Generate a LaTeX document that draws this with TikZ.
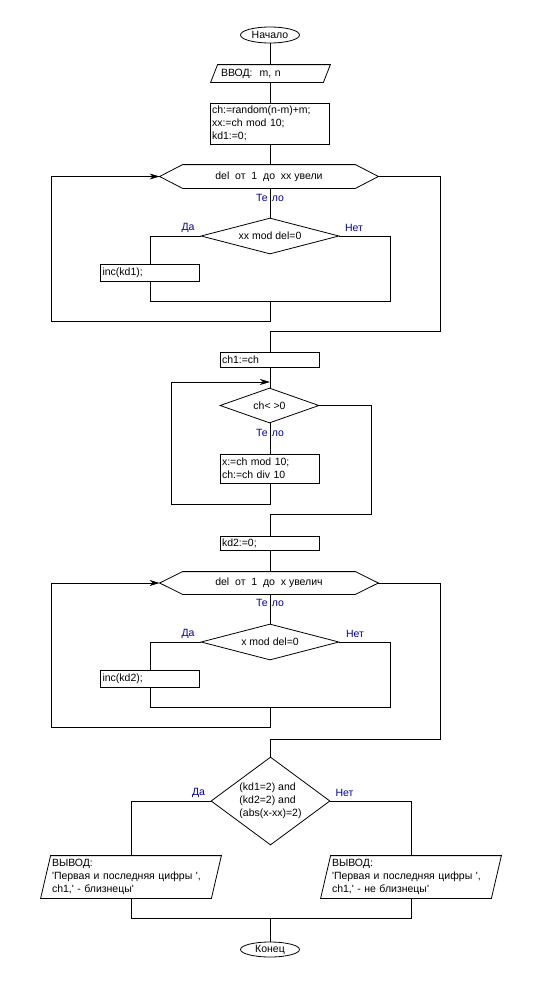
\documentclass[tikz,border=0pt]{standalone}
\usepackage{fontspec}
\newfontfamily\uifont{Liberation Sans}
\usetikzlibrary{shapes.geometric,arrows.meta}
\definecolor{lblblue}{RGB}{0,0,160}
\newcommand{\paral}[2]{\draw ([xshift=#2]#1.north west) -- (#1.north east) -- ([xshift=-#2]#1.south east) -- (#1.south west) -- cycle;}
\newcommand{\hexa}[2]{\draw (#1.west) -- ([xshift=#2]#1.north west) -- ([xshift=-#2]#1.north east) -- (#1.east) -- ([xshift=-#2]#1.south east) -- ([xshift=#2]#1.south west) -- cycle;}
\begin{document}
\begin{tikzpicture}[x=1pt,y=-1pt,line width=0.8pt,
  every node/.style={font=\uifont\fontsize{10.5}{13}\selectfont, inner sep=0pt},
  term/.style={ellipse,draw,minimum width=59pt,minimum height=16pt},
  procbox/.style={rectangle,draw,inner xsep=2pt,inner ysep=0pt,align=left},
  iobox/.style={rectangle,inner ysep=0pt,align=left},
  hexbox/.style={rectangle,minimum width=218pt},
  decide/.style={diamond,draw},
  lbl/.style={text=lblblue},
  arr/.style={-{Stealth[length=10pt,width=6pt,inset=3pt]}}]
\useasboundingbox (0,0) rectangle (540,983);
\fill[white] (0,0) rectangle (540,983);

% nodes
\node[term] (start) at (270,35) {Начало};
\node[iobox,minimum height=17pt,inner xsep=10pt,text width=99pt] (in) at (270.5,73.5) {ВВОД:\ \ m, n};
\paral{in}{7pt}
\node[procbox,text width=115pt,minimum height=41pt] (p1) at (269.5,123.5) {ch:=random(n-m)+m;\\xx:=ch mod 10;\\kd1:=0;};
\node[hexbox,minimum height=23pt] (h1) at (269,176.5) {del\ \ от\ \ 1\ \ до\ \ xx увели};
\hexa{h1}{23pt}
\node[decide,minimum width=138pt,minimum height=36pt,aspect=3.8] (d1) at (270,236) {xx mod del=0};
\node[procbox,text width=95pt,minimum height=17pt] (b1) at (150,272.5) {inc(kd1);};
\node[procbox,text width=95pt,minimum height=15pt] (p2) at (269.5,359.5) {ch1:=ch};
\node[decide,minimum width=99pt,minimum height=35pt,aspect=2.8] (w) at (269.5,405.5) {ch< >0};
\node[procbox,text width=95pt,minimum height=29pt] (b2) at (269.5,468.5) {x:=ch mod 10;\\ch:=ch div 10};
\node[procbox,text width=95pt,minimum height=14pt] (p3) at (269.5,543) {kd2:=0;};
\node[hexbox,minimum height=22pt] (h2) at (269,583) {del\ \ от\ \ 1\ \ до\ \ x увелич};
\hexa{h2}{23pt}
\node[decide,minimum width=138pt,minimum height=36pt,aspect=3.8] (d2) at (270,642) {x mod del=0};
\node[procbox,text width=95pt,minimum height=17pt] (b3) at (150,678.5) {inc(kd2);};
\node[decide,minimum width=119pt,minimum height=88pt,aspect=1.35,align=left] (d3) at (270.5,801) {(kd1=2) and\\(kd2=2) and\\(abs(x-xx)=2)};
\node[iobox,minimum height=42pt,inner xsep=11pt,text width=158pt] (o1) at (131,877) {ВЫВОД:\\'Первая и последняя цифры ',\\ch1,' - близнецы'};
\paral{o1}{10pt}
\node[iobox,minimum height=42pt,inner xsep=11pt,text width=158pt] (o2) at (411,877) {ВЫВОД:\\'Первая и последняя цифры ',\\ch1,' - не близнецы'};
\paral{o2}{10pt}
\node[term,minimum height=15pt] (end) at (270,949.5) {Конец};

% coordinates
\coordinate (m1) at (270,301);
\coordinate (r1) at (390,301);
\coordinate (l1) at (270,321);
\coordinate (k1) at (51,321);
\coordinate (q1) at (440,331);
\coordinate (e1) at (270,331);
\coordinate (a2) at (270,382);
\coordinate (m2) at (270,504);
\coordinate (k2) at (171,504);
\coordinate (q2) at (371,514);
\coordinate (e2) at (270,514);
\coordinate (m3) at (270,707);
\coordinate (r3) at (390,707);
\coordinate (l3) at (270,727);
\coordinate (k3) at (51,727);
\coordinate (q3) at (440,739);
\coordinate (e3) at (270,739);
\coordinate (m4) at (270,918);

% connectors
\draw (start) -- (in.north -| start);
\draw (in.south -| start) -- (p1.north -| start);
\draw (p1.south -| start) -- (h1.north -| start);
\draw (h1.south -| start) -- (d1);
\draw (d1.west) -| (b1.north);
\draw (b1.south) |- (m1);
\draw (d1.east) -| (r1) -- (m1);
\draw[arr] (m1) -- (l1) -- (k1) |- (h1.west);
\draw (h1.east) -| (q1) -- (e1) -- (p2.north -| e1);
\draw (p2.south -| e1) -- (w.north -| e1);
\draw (w.south -| e1) -- (b2.north -| e1);
\draw[arr] (b2.south -| e1) -- (m2) -- (k2) |- (a2);
\draw (w.east) -| (q2) -- (e2) -- (p3.north -| e2);
\draw (p3.south -| e2) -- (h2.north -| e2);
\draw (h2.south -| e2) -- (d2);
\draw (d2.west) -| (b3.north);
\draw (b3.south) |- (m3);
\draw (d2.east) -| (r3) -- (m3);
\draw[arr] (m3) -- (l3) -- (k3) |- (h2.west);
\draw (h2.east) -| (q3) -- (e3) -- (d3.north -| e3);
\draw (d3.west) -| (o1.north);
\draw (d3.east) -| (o2.north);
\draw (o1.south) |- (m4) -| (o2.south);
\draw (m4) -- (end);

% labels
\node[lbl] (t1) at (270,197.5) {Те\kern4pt ло};
\node[lbl] (y1) at (188,228) {Да};
\node[lbl] (n1) at (354,228) {Нет};
\node[lbl] (t2) at (270,432.5) {Те\kern4pt ло};
\node[lbl] (t3) at (270,603) {Те\kern4pt ло};
\node[lbl] (y2) at (188,633.5) {Да};
\node[lbl] (n2) at (355,633.5) {Нет};
\node[lbl] (y3) at (198.5,792.5) {Да};
\node[lbl] (n3) at (344.5,792.5) {Нет};
\end{tikzpicture}
\end{document}
